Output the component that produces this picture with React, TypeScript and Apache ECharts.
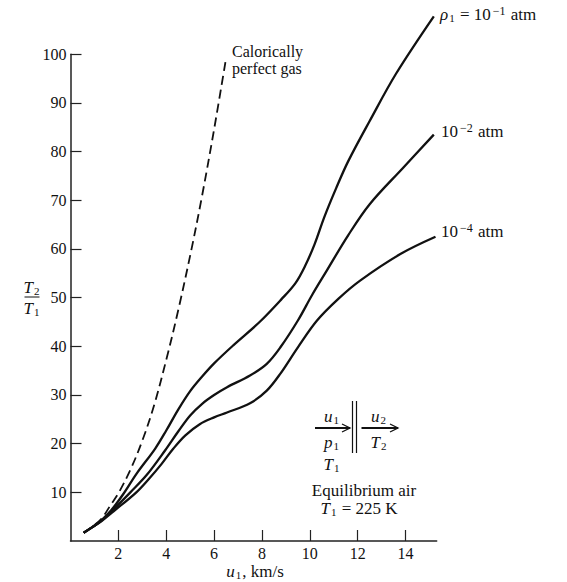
import React, { useEffect, useRef } from "react";
import * as echarts from "echarts";

const xTicks = [2, 4, 6, 8, 10, 12, 14];
const yTicks = [10, 20, 30, 40, 50, 60, 70, 80, 90, 100];

const perfectX = [0.55, 0.9, 1.3, 1.65, 2.0, 2.5, 3.0, 3.5, 4.03, 4.5, 5.04, 5.5, 6.0, 6.5];
const perfectY = [1.7, 2.9, 4.6, 7.2, 9.8, 14.6, 20.6, 28.0, 37.8, 47.4, 59.6, 71.0, 84.6, 99.2];

const p1X = [0.55, 0.9, 1.3, 1.7, 2.2, 2.77, 3.54, 4.0, 4.5, 5.0, 5.5, 6.0, 6.8, 7.9, 8.8, 9.4, 9.8, 10.2, 10.6, 11.1, 11.6, 12.5, 13.6, 15.18];
const p1Y = [1.7, 2.8, 4.3, 6.3, 9.6, 13.9, 19.0, 22.7, 27.0, 30.8, 33.8, 36.5, 40.2, 45.0, 49.6, 53.0, 56.5, 61.0, 66.5, 72.5, 78.0, 86.3, 96.0, 107.8];

const p2X = [0.55, 0.9, 1.3, 1.8, 2.5, 3.19, 3.95, 4.5, 5.0, 5.5, 6.0, 6.54, 7.5, 8.2, 8.77, 9.5, 10.1, 10.7, 11.6, 12.5, 13.9, 15.18];
const p2Y = [1.7, 2.8, 4.2, 6.5, 10, 13.6, 18.6, 22.5, 25.8, 28.2, 30.0, 31.6, 34.0, 36.4, 39.8, 45.3, 50.6, 55.5, 62.8, 69.2, 76.7, 83.5];

const p4X = [0.55, 0.9, 1.3, 1.8, 2.75, 3.3, 3.8, 4.3, 4.8, 5.4, 6.0, 6.54, 7.5, 8.2, 8.77, 9.5, 10.3, 11.2, 12.1, 13.8, 15.25];
const p4Y = [1.7, 2.8, 4.1, 6.1, 10, 12.9, 15.8, 19.0, 21.7, 24.0, 25.4, 26.4, 28.3, 30.9, 34.4, 39.8, 45.3, 49.8, 53.5, 59.0, 62.5];

const FONT = "'Liberation Serif', 'DejaVu Serif', serif";
const INK = "#111";
const FS = 16;
const AF = 17;

const zip = (xs: number[], ys: number[]) => xs.map((x, i) => [x, ys[i]]);

const richBase = {
  n: { fontFamily: FONT, fontSize: AF, color: INK },
  i: { fontFamily: FONT, fontSize: AF, fontStyle: "italic", color: INK },
  sub: { fontFamily: FONT, fontSize: 11, color: INK, verticalAlign: "bottom", padding: [7, 1, 0, 1] },
  sup: { fontFamily: FONT, fontSize: 12, color: INK, verticalAlign: "top", padding: [0, 1, 7, 2] },
};

function txt(x: number, y: number, text: string, align = "left", size = AF) {
  return {
    type: "text",
    x,
    y,
    style: {
      text,
      fill: INK,
      fontFamily: FONT,
      fontSize: size,
      align,
      verticalAlign: "middle",
      rich: richBase,
    },
  };
}

function arrow(x1: number, x2: number, y: number) {
  return [
    { type: "line", shape: { x1, y1: y, x2, y2: y }, style: { stroke: INK, lineWidth: 1.8 } },
    {
      type: "polyline",
      shape: { points: [[x2 - 8, y - 4], [x2, y], [x2 - 8, y + 4]] },
      style: { stroke: INK, lineWidth: 1.3, fill: null },
    },
  ];
}

export default function App() {
  const ref = useRef<HTMLDivElement>(null);
  useEffect(() => {
    if (!ref.current) return;
    const chart = echarts.init(ref.current, null, { renderer: "svg" });
    const lineStyle = { color: INK, width: 2.3 };
    const axisCommon = {
      axisLine: { show: true, lineStyle: { color: "#222", width: 1.5 } },
      axisTick: { show: true, inside: true, length: 11, lineStyle: { color: "#222", width: 1.2 } },
      splitLine: { show: false },
      axisLabel: {
        color: INK,
        fontFamily: FONT,
        fontSize: FS,
        margin: 4,
        showMaxLabel: false,
        showMinLabel: false,
      },
    };
    const curve = (name: string, xs: number[], ys: number[], ls: any) => ({
      name,
      type: "line",
      data: zip(xs, ys),
      smooth: 0.35,
      showSymbol: false,
      clip: false,
      lineStyle: ls,
    });
    chart.setOption({
      animation: false,
      backgroundColor: "#fff",
      grid: { left: 70.5, right: 130.3, top: 54.3, bottom: 41 },
      xAxis: { type: "value", min: 0, max: 15.3, interval: 2, ...axisCommon },
      yAxis: {
        type: "value",
        min: 0,
        max: 100,
        interval: 10,
        ...axisCommon,
        axisLabel: { ...axisCommon.axisLabel, showMaxLabel: true },
      },
      series: [
        curve("Calorically perfect gas", perfectX, perfectY, { color: INK, width: 1.8, type: [9, 5] }),
        curve("1e-1", p1X, p1Y, lineStyle),
        curve("1e-2", p2X, p2Y, lineStyle),
        curve("1e-4", p4X, p4Y, lineStyle),
      ],
      graphic: [
        txt(232, 51, "Calorically", "left", 16),
        txt(232, 68.5, "perfect gas", "left", 16),
        txt(440, 14, "{i|ρ}{sub|1}{n| = 10}{sup|−1}{n| atm}"),
        txt(441, 131, "{n|10}{sup|−2}{n| atm}"),
        txt(441, 231, "{n|10}{sup|−4}{n| atm}"),
        txt(32, 287, "{i|T}{sub|2}", "center"),
        { type: "line", shape: { x1: 24.5, y1: 297, x2: 39.5, y2: 297 }, style: { stroke: INK, lineWidth: 1 } },
        txt(32, 308, "{i|T}{sub|1}", "center"),
        txt(255, 571, "{i|u}{sub|1}{n|, km/s}", "center"),
        ...arrow(315, 350, 428),
        ...arrow(361.5, 398, 428),
        { type: "line", shape: { x1: 352.5, y1: 401, x2: 352.5, y2: 453 }, style: { stroke: INK, lineWidth: 1.2 } },
        { type: "line", shape: { x1: 356.5, y1: 401, x2: 356.5, y2: 453 }, style: { stroke: INK, lineWidth: 1.2 } },
        txt(332, 416, "{i|u}{sub|1}", "center"),
        txt(379, 416, "{i|u}{sub|2}", "center"),
        txt(332, 442, "{i|p}{sub|1}", "center"),
        txt(379, 442, "{i|T}{sub|2}", "center"),
        txt(332, 464, "{i|T}{sub|1}", "center"),
        txt(364, 490, "Equilibrium air", "center"),
        txt(359, 508, "{i|T}{sub|1}{n| = 225 K}", "center"),
      ],
    });
    return () => chart.dispose();
  }, []);
  return (
    <div
      ref={ref}
      style={{ position: "fixed", left: 0, top: 0, width: 567, height: 582, background: "#fff" }}
    />
  );
}
